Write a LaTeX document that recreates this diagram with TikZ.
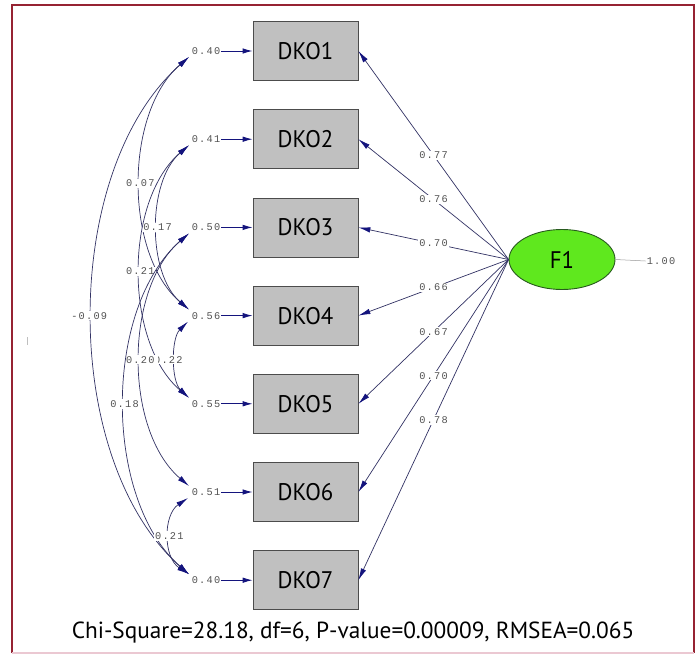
\documentclass[tikz,border=0pt]{standalone}
\usepackage{fontspec}
\setmainfont{PT Sans}
\newfontfamily\boxfont[FakeStretch=0.95]{PT Sans}
\newfontfamily\capfont{PT Sans}
\newfontfamily\lisfont[LetterSpace=12]{Liberation Mono}
\usetikzlibrary{arrows.meta,shapes.geometric}
\definecolor{framered}{RGB}{150,35,50}
\definecolor{framepink}{RGB}{235,200,210}
\definecolor{boxgray}{RGB}{192,192,192}
\definecolor{fgreen}{RGB}{95,232,30}
\definecolor{fdark}{RGB}{40,90,30}
\definecolor{arrnavy}{RGB}{20,20,125}
\definecolor{linecol}{RGB}{50,50,100}
\begin{document}
\begin{tikzpicture}[x=1pt,y=-1pt,
  obs/.style={draw=black!70, line width=0.8pt, fill=boxgray, minimum width=105pt, minimum height=59pt, inner sep=0pt, font=\boxfont\fontsize{24}{24}\selectfont},
  lat/.style={ellipse, draw=fdark, line width=0.9pt, fill=fgreen, minimum width=106pt, minimum height=60pt, inner sep=0pt, font=\boxfont\fontsize{24}{24}\selectfont},
  num/.style={font=\lisfont\fontsize{10.3}{10.3}\selectfont, text=black!68, fill=white, inner sep=1.2pt},
  errnum/.style={font=\lisfont\fontsize{10.3}{10.3}\selectfont, text=black!68, inner sep=1pt},
  load/.style={draw=linecol, line width=0.7pt, -{Latex[length=12pt,width=5.5pt,color=arrnavy]}},
  errarr/.style={draw=arrnavy, line width=0.9pt, -{Latex[length=10pt,width=5.5pt,color=arrnavy]}},
  cov/.style={draw=linecol, line width=0.7pt, {Latex[length=12pt,width=5.5pt,color=arrnavy]}-{Latex[length=12pt,width=5.5pt,color=arrnavy]}}
]
\useasboundingbox (0,0) rectangle (698,656);
\fill[white] (0,0) rectangle (698,656);
% frame
\draw[framered, line width=1.2pt] (12,653) -- (12,5) -- (694,5) -- (694,653);
\draw[framepink, line width=2pt] (12,653) -- (694,653);
\draw[black!25, line width=0.6pt] (27,337) -- (27,345);

% observed variables
\node[obs] (d1) at (305.5,51) {DKO1};
\node[obs] (d2) at (305.5,139.2) {DKO2};
\node[obs] (d3) at (305.5,227.4) {DKO3};
\node[obs] (d4) at (305.5,315.6) {DKO4};
\node[obs] (d5) at (305.5,403.8) {DKO5};
\node[obs] (d6) at (305.5,492) {DKO6};
\node[obs] (d7) at (305.5,580.2) {DKO7};

% latent
\node[lat] (f1) at (562,259.5) {F1};
\node[errnum] (one) at (661,261) {1.00};
\draw[black!40, line width=0.5pt] (f1.east) -- (one.west);

% loadings
\draw[load] (f1.west) -- node[num] {0.77} (d1.east);
\draw[load] (f1.west) -- node[num] {0.76} (d2.east);
\draw[load] (f1.west) -- node[num] {0.70} (d3.east);
\draw[load] (f1.west) -- node[num] {0.66} (d4.east);
\draw[load] (f1.west) -- node[num] {0.67} (d5.east);
\draw[load] (f1.west) -- node[num] {0.70} (d6.east);
\draw[load] (f1.west) -- node[num] {0.78} (d7.east);

% error variances
\node[errnum] (e1) at (206,51) {0.40};
\node[errnum] (e2) at (206,139.2) {0.41};
\node[errnum] (e3) at (206,227.4) {0.50};
\node[errnum] (e4) at (206,315.6) {0.56};
\node[errnum] (e5) at (206,403.8) {0.55};
\node[errnum] (e6) at (206,492) {0.51};
\node[errnum] (e7) at (206,580.2) {0.40};
\foreach \i in {1,...,7} {\draw[errarr] (e\i.east) -- (d\i.west);}

% covariance end points
\coordinate (s1) at (189,57);
\coordinate (s2) at (189,145.2);
\coordinate (s3) at (189,233.4);
\coordinate (s4) at (188,321.6);
\coordinate (s6) at (188,498);
\coordinate (n4) at (189,309.6);
\coordinate (n5) at (189,397.8);
\coordinate (n6) at (189,486);
\coordinate (n7) at (189,574.2);

% covariances
\draw[cov] (s1) .. controls (60,170.8) and (60,460.4) .. node[num, pos=0.5, xshift=-3pt] {-0.09} (n7);
\draw[cov] (s1) .. controls (124,112.6) and (124,254) .. node[num, pos=0.5] {0.07} (n4);
\draw[cov] (s2) .. controls (147,181.4) and (147,273.4) .. node[num, pos=0.5] {0.17} (n4);
\draw[cov] (s2) .. controls (124,200.8) and (124,342.2) .. node[num, pos=0.5] {0.21} (n5);
\draw[cov] (s4) .. controls (171,338.4) and (171,381) .. node[num, pos=0.5, xshift=-7pt] {0.22} (n5);
\draw[cov] (s3) .. controls (124,289) and (124,430.4) .. node[num, pos=0.5, inner xsep=3.5pt] {0.20} (n6);
\draw[cov] (s3) .. controls (103,308.4) and (103,499.2) .. node[num, pos=0.5] {0.18} (n7);
\draw[cov] (s6) .. controls (163,514.8) and (163,557.4) .. node[num, pos=0.5] {0.21} (n7);

% fit statistics
\node[font=\capfont\fontsize{23.3}{23.3}\selectfont] (chi) at (353,633) {Chi-Square=28.18, df=6, P-value=0.00009, RMSEA=0.065};
\end{tikzpicture}
\end{document}
